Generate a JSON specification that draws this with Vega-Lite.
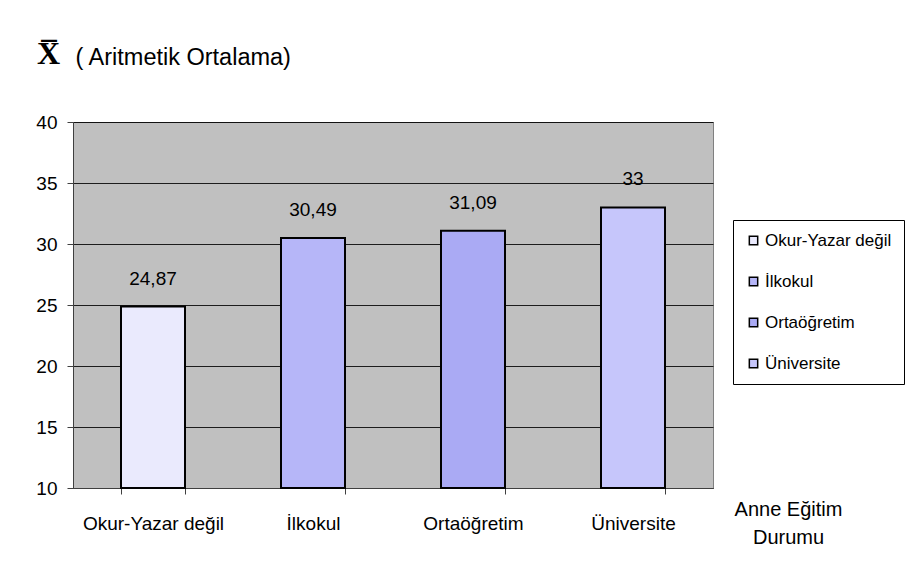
{
  "$schema": "https://vega.github.io/schema/vega-lite/v6.json",
  "autosize": "none",
  "width": 640,
  "height": 366,
  "padding": {"left": 73, "top": 122, "right": 200, "bottom": 95},
  "background": "white",
  "config": {
    "font": "Liberation Sans",
    "view": {"fill": "#c0c0c0", "stroke": "#808080", "strokeWidth": 1},
    "locale": {"number": {"decimal": ",", "thousands": ".", "grouping": [3], "currency": ["", ""]}}
  },
  "title": {
    "text": "X̅",
    "font": "Liberation Serif",
    "fontSize": 32,
    "fontWeight": "bold",
    "color": "black",
    "anchor": "start",
    "frame": "group",
    "dx": -36,
    "offset": -51,
    "baseline": "alphabetic"
  },
  "data": {
    "values": [
      {"durum": "Okur-Yazar değil", "ortalama": 24.87},
      {"durum": "İlkokul", "ortalama": 30.49},
      {"durum": "Ortaöğretim", "ortalama": 31.09},
      {"durum": "Üniversite", "ortalama": 33}
    ]
  },
  "encoding": {
    "x": {
      "field": "durum",
      "type": "nominal",
      "sort": null,
      "scale": {"paddingInner": 0.6, "paddingOuter": 0.3},
      "axis": {
        "title": ["Anne Eğitim", "Durumu"],
        "titleFont": "Liberation Sans",
        "titleFontSize": 20,
        "titleFontWeight": "normal",
        "titleColor": "black",
        "titleX": 715,
        "titleY": 11,
        "titleAlign": "center",
        "titleBaseline": "top",
        "titleLineHeight": 28,
        "labelAngle": 0,
        "labelFontSize": 19,
        "labelColor": "black",
        "labelPadding": 20,
        "tickBand": "extent",
        "tickSize": 6,
        "tickColor": "#404040",
        "domainColor": "#404040",
        "grid": false
      }
    },
    "y": {
      "field": "ortalama",
      "type": "quantitative",
      "scale": {"domain": [10, 40]},
      "axis": {
        "values": [10, 15, 20, 25, 30, 35, 40],
        "title": "( Aritmetik Ortalama)",
        "titleAngle": 0,
        "titleX": 2,
        "titleY": -65,
        "titleAlign": "left",
        "titleBaseline": "middle",
        "titleFontSize": 23.5,
        "titleFontWeight": "normal",
        "titleColor": "black",
        "labelFontSize": 19,
        "labelColor": "black",
        "labelPadding": 10,
        "tickSize": 6,
        "tickColor": "#404040",
        "domainColor": "#404040",
        "grid": true,
        "gridColor": "#000000",
        "gridOpacity": 0.85,
        "gridWidth": 1
      }
    }
  },
  "layer": [
    {
      "mark": {"type": "bar", "stroke": "black", "strokeWidth": 2},
      "encoding": {
        "y2": {"datum": 10},
        "color": {
          "field": "durum",
          "type": "nominal",
          "sort": null,
          "scale": {"range": ["#eaeafd", "#b6b6f8", "#aaaaf4", "#c6c6fb"]},
          "legend": {
            "title": null,
            "orient": "none",
            "legendX": 660,
            "legendY": 98,
            "strokeColor": "black",
            "fillColor": "white",
            "padding": 12,
            "rowPadding": 23,
            "symbolType": "square",
            "symbolSize": 70,
            "symbolStrokeColor": "black",
            "symbolStrokeWidth": 1.5,
            "symbolOpacity": 1,
            "labelFontSize": 17,
            "labelColor": "black",
            "labelOffset": 3,
            "labelLimit": 200
          }
        }
      }
    },
    {
      "mark": {"type": "text", "dy": -28, "fontSize": 19, "color": "black"},
      "encoding": {
        "text": {"field": "ortalama", "type": "quantitative", "format": ".2~f"}
      }
    }
  ]
}
